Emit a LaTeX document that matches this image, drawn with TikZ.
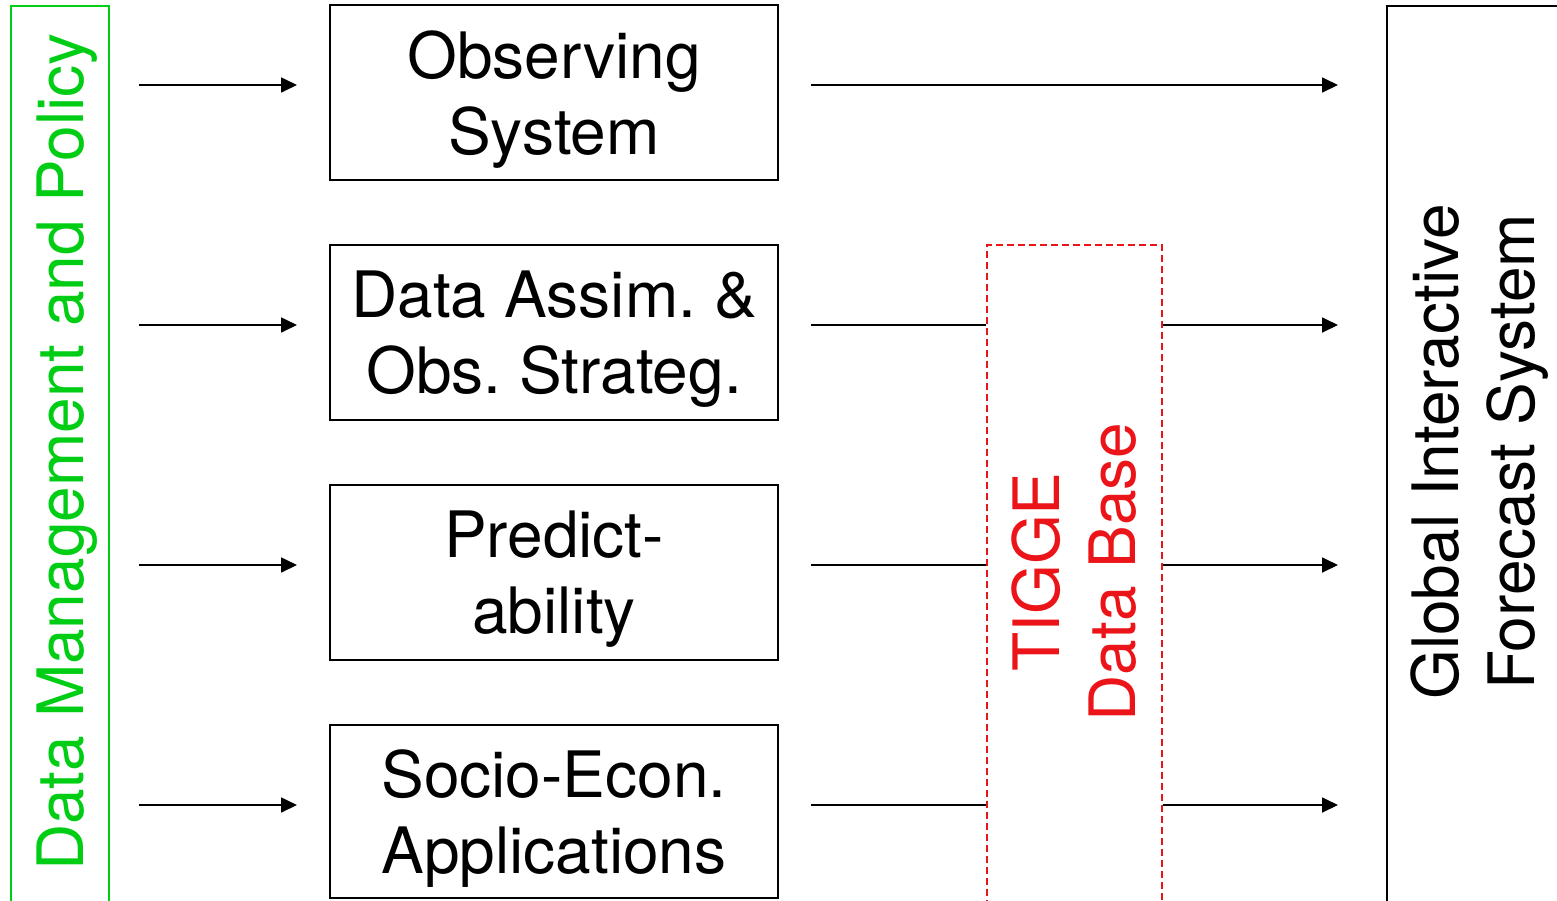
\documentclass[tikz,border=0pt]{standalone}
\usepackage{fontspec}
\setmainfont{TeX Gyre Heros}
\usetikzlibrary{arrows.meta}
\definecolor{dmgreen}{RGB}{0,205,20}
\definecolor{tigred}{RGB}{235,20,25}
\begin{document}
\frenchspacing
\begin{tikzpicture}[x=1pt,y=-1pt,
  font=\fontsize{64}{76}\selectfont,
  box/.style={draw, line width=2pt, minimum width=448pt, minimum height=175pt, align=center, inner sep=0pt, text depth=0pt},
  frame/.style={draw, line width=2pt, anchor=north west, inner sep=0pt},
  conn/.style={line width=1.7pt},
  arr/.style={line width=1.7pt, -{Triangle[length=16pt,width=15pt]}},
  vtext/.style={rotate=90, align=center, inner sep=0pt}]
\useasboundingbox (0,0) rectangle (1557,900);
\clip (0,0) rectangle (1557,900);
% frames
\node[frame, draw=dmgreen, line width=1.5pt, minimum width=98pt, minimum height=950pt] (dm) at (10,5) {};
\node[vtext, text=dmgreen] (dmtext) at (67,452) {Data Management and Policy};
\node[frame, draw=tigred, line width=1.5pt, dash pattern=on 7pt off 4pt, minimum width=175pt, minimum height=700pt] (tig) at (986,244) {};
\node[vtext, text=tigred] (tigtext) at (1074,572) {TIGGE\\Data Base};
\node[frame, minimum width=250pt, minimum height=950pt] (gifs) at (1386,5) {};
\node[vtext] (gifstext) at (1480,452) {Global Interactive\\Forecast System};
% boxes
\node[box] (obs) at (554,92.5) {Observing\\System};
\node[box] (das) at (554,332.5) {Data Assim. \&\\Obs. Strateg.};
\node[box] (pre) at (554,572.5) {Predict-\\ability};
\node[box, minimum height=173pt] (soc) at (554,811.5) {Socio-Econ.\\Applications};
% row anchors
\foreach \b/\s in {obs/7.5,das/7.5,pre/7.5,soc/6.5}
  \path ([yshift=\s pt]\b.west) coordinate (L\b) ([yshift=\s pt]\b.east) coordinate (R\b);
% left connectors
\foreach \b in {obs,das,pre,soc}
  \draw[arr, shorten <=29pt, shorten >=32pt] (dm.east |- L\b) -- (L\b);
% right connectors
\draw[arr, shorten <=32pt, shorten >=48pt] (Robs) -- (gifs.west |- Robs);
\foreach \b in {das,pre,soc}{
  \draw[conn, shorten <=32pt] (R\b) -- (tig.west |- R\b);
  \draw[arr, shorten >=48pt] (tig.east |- R\b) -- (gifs.west |- R\b);
}
\end{tikzpicture}
\end{document}
